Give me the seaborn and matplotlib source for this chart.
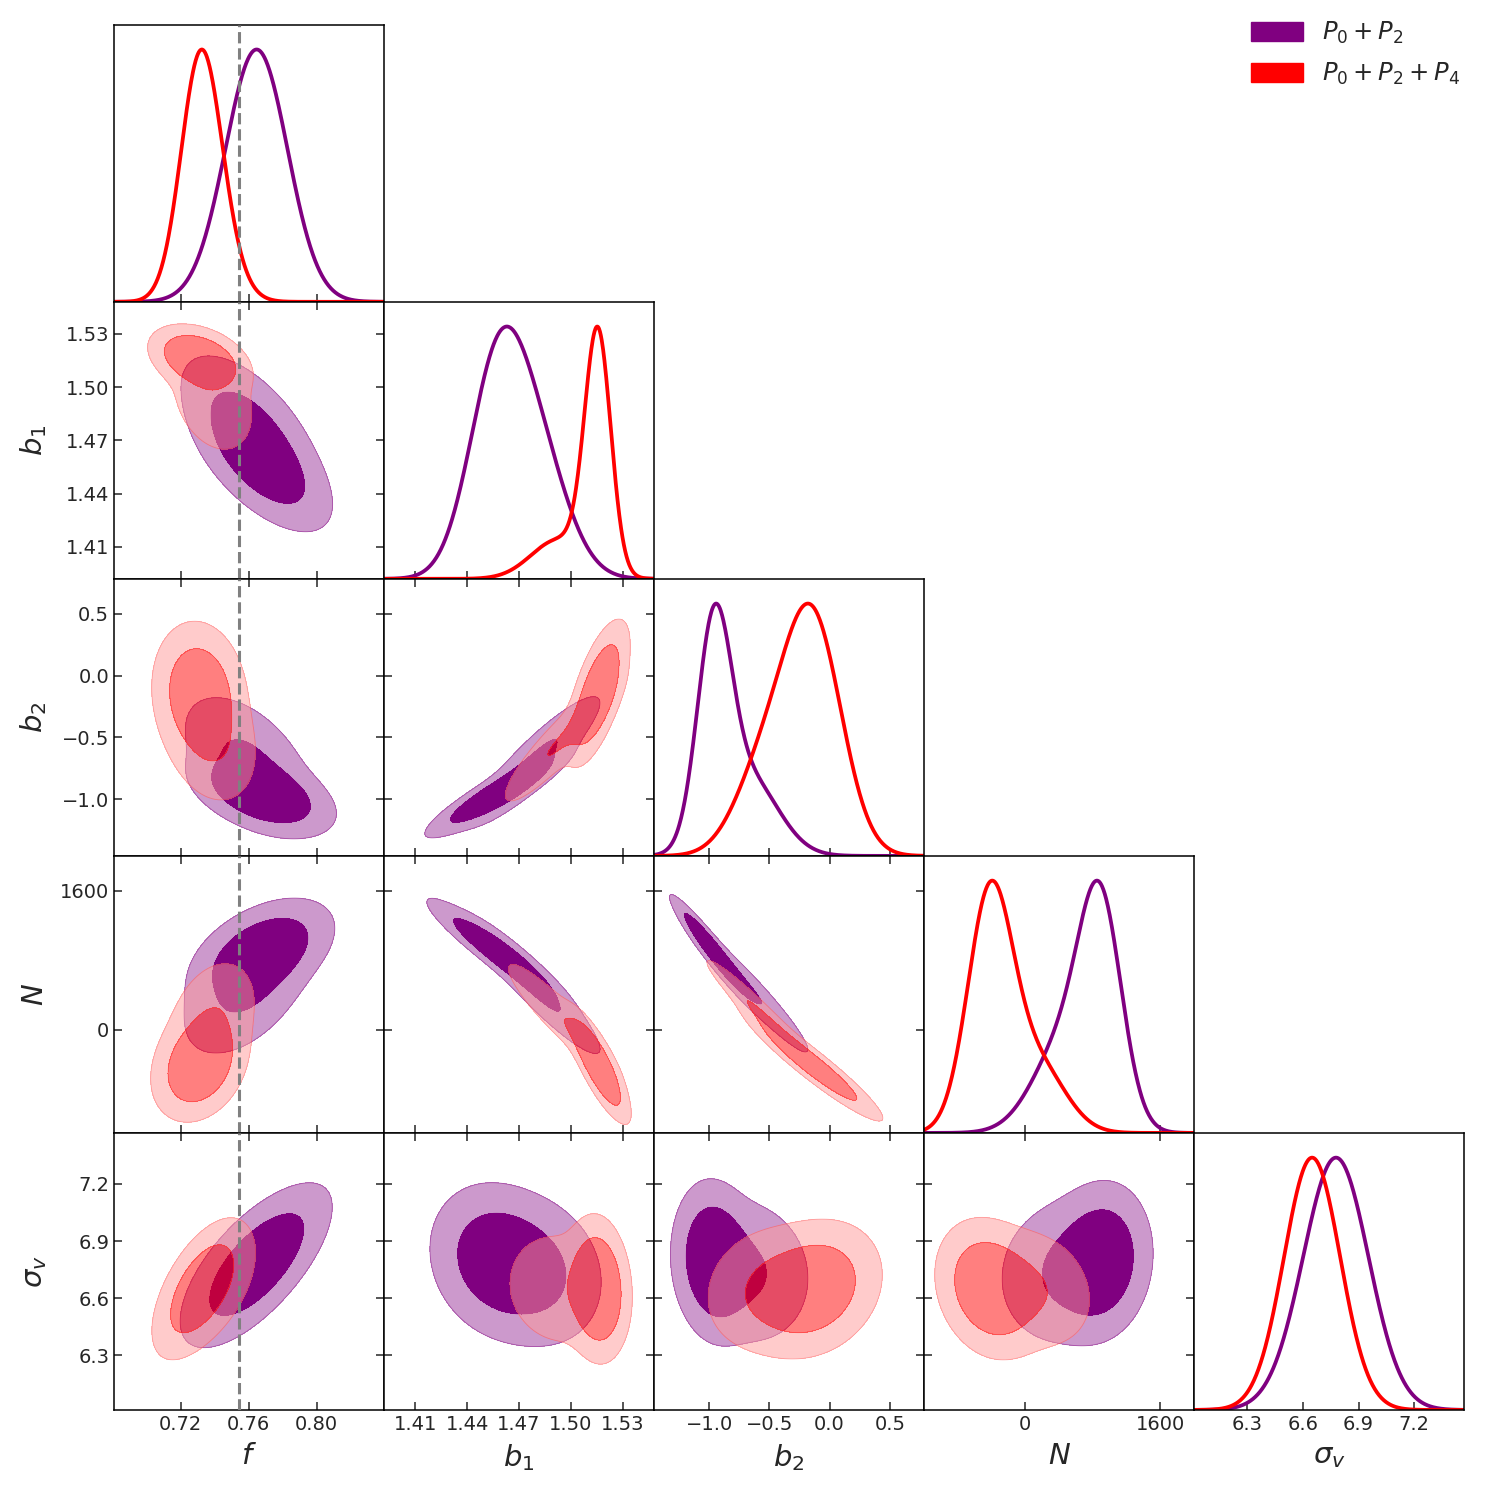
import numpy as np
import pandas as pd
import matplotlib
matplotlib.use('Agg')
import matplotlib.pyplot as plt
import seaborn as sns
from matplotlib.patches import Patch

# parameters of the triangle plot
labels = [r'$f$', r'$b_1$', r'$b_2$', r'$N$', r'$\sigma_v$']
lims = [(0.6808, 0.8396), (1.392, 1.548), (-1.458, 0.784), (-1190, 2000), (6.014, 7.468)]
ticks = [[0.72, 0.76, 0.80],
         [1.41, 1.44, 1.47, 1.50, 1.53],
         [-1.0, -0.5, 0.0, 0.5],
         [0, 1600],
         [6.3, 6.6, 6.9, 7.2]]
tick_labels = [['0.72', '0.76', '0.80'],
               ['1.41', '1.44', '1.47', '1.50', '1.53'],
               ['\u22121.0', '\u22120.5', '0.0', '0.5'],
               ['0', '1600'],
               ['6.3', '6.6', '6.9', '7.2']]
f_fid = 0.7545

# posterior summaries: two gaussian pieces per chain
# order f, b1, b2, N, sigma_v ; corr = upper triangle
# (f,b1) (f,b2) (f,N) (f,sv) (b1,b2) (b1,N) (b1,sv) (b2,N) (b2,sv) (N,sv)
p02_weight = [0.60, 0.40]
p02_mean_main = [0.768, 1.457, -0.96, 900, 6.80]
p02_sd_main = [0.0175, 0.0165, 0.14, 250, 0.17]
p02_corr_main = [-0.62, -0.45, 0.45, 0.70, 0.90, -0.93, -0.15, -0.96, -0.10, 0.10]
p02_mean_tail = [0.759, 1.480, -0.68, 480, 6.74]
p02_sd_tail = [0.018, 0.018, 0.25, 370, 0.18]
p02_corr_tail = [-0.60, -0.50, 0.50, 0.65, 0.90, -0.93, -0.15, -0.96, -0.10, 0.10]

p024_weight = [0.74, 0.26]
p024_mean_main = [0.731, 1.5155, -0.14, -410, 6.65]
p024_sd_main = [0.0115, 0.0075, 0.24, 265, 0.15]
p024_corr_main = [-0.35, -0.10, 0.25, 0.60, 0.65, -0.82, -0.10, -0.95, 0.20, -0.20]
p024_mean_tail = [0.739, 1.493, -0.55, 150, 6.65]
p024_sd_tail = [0.013, 0.016, 0.24, 330, 0.155]
p024_corr_tail = [-0.30, -0.20, 0.30, 0.55, 0.90, -0.92, -0.10, -0.97, 0.15, -0.20]

chain_names = ['$P_0+P_2$', '$P_0+P_2+P_4$']
chain_colors = ['#800080', '#ff0000']
chain_pale = ['#cc99cc', '#ff9999']
chain_alpha = [1.0, 0.5]


def make_cov(sd, corr):
    c = np.eye(5)
    iu = np.triu_indices(5, 1)
    c[iu] = corr
    c[iu[1], iu[0]] = corr
    vals, vecs = np.linalg.eigh(c)
    vals = np.clip(vals, 2e-3, None)
    c = vecs @ np.diag(vals) @ vecs.T
    d = np.sqrt(np.diag(c))
    c = c / np.outer(d, d)
    sd = np.array(sd, dtype=float)
    return c * np.outer(sd, sd)


chains = [
    [(p02_weight[0], np.array(p02_mean_main, float), make_cov(p02_sd_main, p02_corr_main)),
     (p02_weight[1], np.array(p02_mean_tail, float), make_cov(p02_sd_tail, p02_corr_tail))],
    [(p024_weight[0], np.array(p024_mean_main, float), make_cov(p024_sd_main, p024_corr_main)),
     (p024_weight[1], np.array(p024_mean_tail, float), make_cov(p024_sd_tail, p024_corr_tail))],
]


def pdf1(x, comps, i):
    out = np.zeros_like(x)
    for w, m, S in comps:
        s = np.sqrt(S[i, i])
        out += w * np.exp(-0.5 * ((x - m[i]) / s) ** 2) / s
    return out


def pdf2(X, Y, comps, i, j):
    out = np.zeros_like(X)
    for w, m, S in comps:
        sub = S[np.ix_([i, j], [i, j])]
        inv = np.linalg.inv(sub)
        dx = X - m[i]
        dy = Y - m[j]
        q = inv[0, 0] * dx * dx + 2 * inv[0, 1] * dx * dy + inv[1, 1] * dy * dy
        out += w * np.exp(-0.5 * q) / np.sqrt(np.linalg.det(sub))
    return out


def span(comps, i):
    lo = min(m[i] - 6 * np.sqrt(S[i, i]) for w, m, S in comps)
    hi = max(m[i] + 6 * np.sqrt(S[i, i]) for w, m, S in comps)
    return lo, hi


sns.set_style('ticks', {'xtick.direction': 'in', 'ytick.direction': 'in'})
plt.rcParams['font.family'] = ['DejaVu Sans']

n = 5
fig, axes = plt.subplots(n, n, figsize=(14.89, 14.92), dpi=100,
                         gridspec_kw=dict(hspace=0, wspace=0))
fig.subplots_adjust(left=0.0766, right=0.9832, top=0.9834, bottom=0.0550)

for r in range(n):
    for c in range(n):
        ax = axes[r][c]
        if c > r:
            ax.remove()
            continue
        for sp in ax.spines.values():
            sp.set_linewidth(1.1)
            sp.set_color('black')
        if r == c:
            # 1D marginals
            x = np.linspace(lims[c][0], lims[c][1], 600)
            frames = []
            for k, comps in enumerate(chains):
                p = pdf1(x, comps, c)
                frames.append(pd.DataFrame({'x': x, 'p': p / p.max(), 'chain': chain_names[k]}))
            df = pd.concat(frames, ignore_index=True)
            sns.lineplot(data=df, x='x', y='p', hue='chain', hue_order=chain_names,
                         palette=chain_colors, linewidth=2.7, legend=False, ax=ax,
                         sort=False)
            ax.set_ylim(0, 1.098)
            ax.set_yticks([])
            ax.set_ylabel('')
            ax.tick_params(axis='x', direction='in', length=6, width=1.1,
                           top=False, bottom=True, labelsize=14)
        else:
            for k, comps in enumerate(chains):
                xlo, xhi = span(comps, c)
                ylo, yhi = span(comps, r)
                gx = np.linspace(xlo, xhi, 400)
                gy = np.linspace(ylo, yhi, 400)
                X, Y = np.meshgrid(gx, gy)
                Z = pdf2(X, Y, comps, c, r)
                z = np.sort(Z.ravel())[::-1]
                cs = np.cumsum(z) / z.sum()
                l68 = z[np.searchsorted(cs, 0.68)]
                l95 = z[np.searchsorted(cs, 0.95)]
                ax.contourf(X, Y, Z, levels=[l95, l68, z[0] * 1.01],
                            colors=[chain_pale[k], chain_colors[k]],
                            alpha=chain_alpha[k], zorder=2 + k)
                ax.contour(X, Y, Z, levels=[l95, l68], colors=[chain_colors[k]],
                           linewidths=0.6, alpha=0.5 * chain_alpha[k], zorder=2 + k)
            ax.set_ylim(lims[r])
            ax.set_yticks(ticks[r])
            ax.tick_params(direction='in', length=6, width=1.1, top=True, right=True,
                           bottom=True, left=True, labelsize=14)
            if c == 0:
                ax.set_yticklabels(tick_labels[r])
                ax.set_ylabel(labels[r], fontsize=21, labelpad=8)
            else:
                ax.set_yticklabels([])
                ax.set_ylabel('')
        ax.set_xlim(lims[c])
        ax.set_xticks(ticks[c])
        if r == n - 1:
            ax.set_xticklabels(tick_labels[c])
            ax.set_xlabel(labels[c], fontsize=21, labelpad=6)
        else:
            ax.set_xticklabels([])
            ax.set_xlabel('')
        if c == 0:
            ax.axvline(f_fid, color='gray', linestyle='--', linewidth=2.2, zorder=10)

fig.align_ylabels([axes[r][0] for r in range(1, n)])
fig.align_xlabels([axes[n - 1][c] for c in range(n)])

handles = [Patch(facecolor=chain_colors[k], edgecolor=chain_colors[k]) for k in range(2)]
fig.legend(handles, chain_names, loc='upper left', bbox_to_anchor=(1251 / 1489, 1 - 20 / 1492),
           frameon=False, fontsize=17.5, handlelength=2.15, handleheight=0.82,
           handletextpad=0.78, labelspacing=0.6, borderpad=0, borderaxespad=0)

fig.savefig('out.png', dpi=100)
